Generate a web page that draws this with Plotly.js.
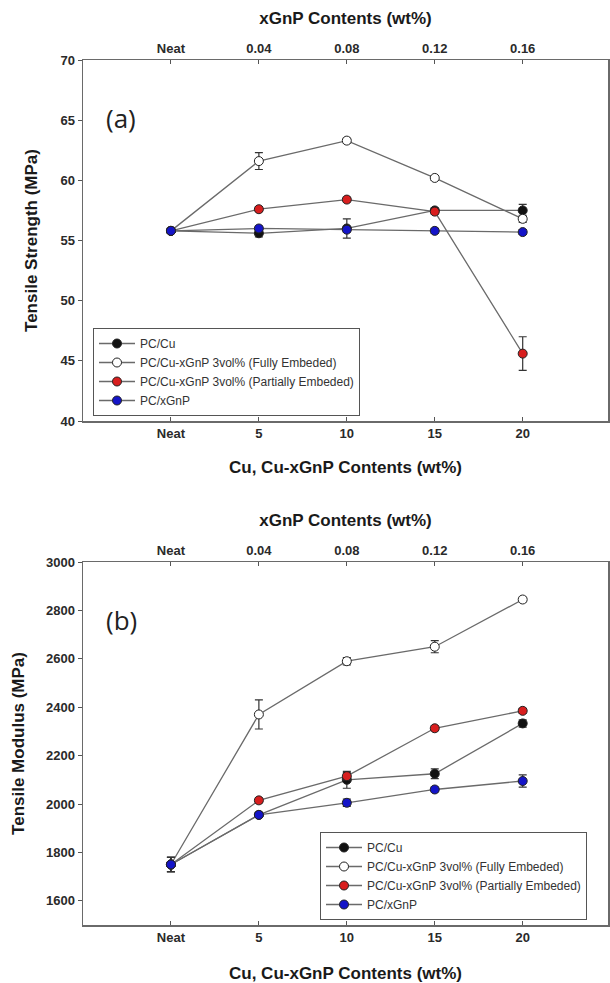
<!DOCTYPE html>
<html>
<head>
<meta charset="utf-8">
<script src="https://cdn.plot.ly/plotly-3.0.1.min.js"></script>
<style>
  html, body { margin: 0; padding: 0; background: #ffffff; }
  #chart { width: 610px; height: 983px; }
</style>
</head>
<body>
<div id="chart"></div>
<script>
// ---------- data ----------
const cuContent   = [0, 5, 10, 15, 20];                 // Cu, Cu-xGnP contents (wt%)
const cuLabels    = ["Neat", "5", "10", "15", "20"];
const xgnpContent = [0, 0.04, 0.08, 0.12, 0.16];        // xGnP contents (wt%)
const xgnpLabels  = ["Neat", "0.04", "0.08", "0.12", "0.16"];

const seriesNames = [
  "PC/Cu",
  "PC/Cu-xGnP 3vol% (Fully Embeded)",
  "PC/Cu-xGnP 3vol% (Partially Embeded)",
  "PC/xGnP"
];

// (a) Tensile strength (MPa)
const tsPCCu      = [55.8, 55.6, 56.0, 57.5, 57.5];
const tsPCCuErr   = [0.2, 0.3, 0.8, 0.2, 0.5];
const tsFully     = [55.8, 61.6, 63.3, 60.2, 56.8];
const tsFullyErr  = [0.2, 0.7, 0.2, 0.2, 0.3];
const tsPartial   = [55.8, 57.6, 58.4, 57.4, 45.6];
const tsPartialErr= [0.2, 0.2, 0.2, 0.2, 1.4];
const tsXgnp      = [55.8, 56.0, 55.9, 55.8, 55.7];
const tsXgnpErr   = [0.2, 0.2, 0.2, 0.2, 0.2];

// (b) Tensile modulus (MPa)
const tmPCCu      = [1750, 1955, 2100, 2125, 2333];
const tmPCCuErr   = [30, 10, 35, 20, 15];
const tmFully     = [1750, 2370, 2590, 2650, 2845];
const tmFullyErr  = [30, 60, 15, 25, 10];
const tmPartial   = [1750, 2015, 2115, 2313, 2385];
const tmPartialErr= [30, 10, 15, 10, 10];
const tmXgnp      = [1750, 1955, 2005, 2060, 2095];
const tmXgnpErr   = [30, 10, 15, 10, 25];

// ---------- styles ----------
const FONT = "Liberation Sans, Arial, sans-serif";
const lineCol = "#6a6a6a";
const markerFill = ["#111111", "#ffffff", "#d81e1e", "#1414c8"];

function mk(i, x, y, err, xa, ya, legend) {
  return {
    type: "scatter", mode: "lines+markers",
    name: seriesNames[i], x: x, y: y,
    xaxis: xa, yaxis: ya, legend: legend, showlegend: true,
    line: { color: lineCol, width: 1.3 },
    marker: { symbol: "circle", size: 9, color: markerFill[i], line: { color: "#222222", width: 1 } },
    error_y: { type: "data", array: err, visible: true, color: "#333333", thickness: 1.2, width: 4 },
    hoverinfo: "x+y"
  };
}

const data = [
  mk(0, cuContent, tsPCCu, tsPCCuErr, "x", "y", "legend"),
  mk(1, cuContent, tsFully, tsFullyErr, "x", "y", "legend"),
  mk(2, cuContent, tsPartial, tsPartialErr, "x", "y", "legend"),
  mk(3, xgnpContent, tsXgnp, tsXgnpErr, "x2", "y", "legend"),
  mk(0, cuContent, tmPCCu, tmPCCuErr, "x3", "y2", "legend2"),
  mk(1, cuContent, tmFully, tmFullyErr, "x3", "y2", "legend2"),
  mk(2, cuContent, tmPartial, tmPartialErr, "x3", "y2", "legend2"),
  mk(3, xgnpContent, tmXgnp, tmXgnpErr, "x4", "y2", "legend2")
];

const xRange = [-5, 24.85];
const xgRange = [xRange[0] * 0.008, xRange[1] * 0.008];
const xDom = [83 / 610, 608 / 610];
const domA = [1 - 421 / 983, 1 - 60 / 983];
const domB = [1 - 925 / 983, 1 - 562 / 983];

const tickFont = { family: FONT, size: 13, color: "#2a2a2a", weight: "bold" };
const titleFont = { family: FONT, size: 17, color: "#1a1a1a", weight: "bold" };

function xBottom(anchor, standoff) {
  return {
    domain: xDom, anchor: anchor, range: xRange,
    tickmode: "array", tickvals: cuContent, ticktext: cuLabels,
    ticks: "inside", ticklen: 4, tickwidth: 1, tickcolor: "#555",
    showline: true, linecolor: lineCol, linewidth: 1.5,
    showgrid: false, zeroline: false, tickfont: tickFont,
    title: { text: "Cu, Cu-xGnP Contents (wt%)", font: titleFont, standoff: standoff },
    automargin: false
  };
}
function xTop(over, anchor, standoff) {
  return {
    overlaying: over, side: "top", anchor: anchor, range: xgRange,
    tickmode: "array", tickvals: xgnpContent, ticktext: xgnpLabels,
    ticks: "inside", ticklen: 4, tickwidth: 1, tickcolor: "#555",
    showline: true, linecolor: lineCol, linewidth: 1.5,
    showgrid: false, zeroline: false, tickfont: tickFont,
    title: { text: "xGnP Contents (wt%)", font: titleFont, standoff: standoff },
    automargin: false
  };
}
function yAx(dom, anchor, range, tick0, dtick, title, standoff) {
  return {
    domain: dom, anchor: anchor, range: range, tick0: tick0, dtick: dtick,
    ticks: "outside", ticklen: 4, tickwidth: 1, tickcolor: "#555",
    showline: true, mirror: true, linecolor: lineCol, linewidth: 1.5,
    showgrid: false, zeroline: false, tickfont: tickFont,
    title: { text: title, font: titleFont, standoff: standoff },
    automargin: false
  };
}

const legendStyle = {
  bgcolor: "#ffffff", bordercolor: "#555555", borderwidth: 1,
  font: { family: FONT, size: 12, color: "#333333" },
  xanchor: "left", yanchor: "top", tracegroupgap: 0, itemwidth: 36
};

const layout = {
  width: 610, height: 983,
  margin: { l: 0, r: 0, t: 0, b: 0 },
  paper_bgcolor: "#ffffff", plot_bgcolor: "#ffffff",
  showlegend: true,
  xaxis: xBottom("y", 21),
  xaxis2: xTop("x", "y", 12),
  xaxis3: xBottom("y2", 24),
  xaxis4: xTop("x3", "y2", 12),
  yaxis: yAx(domA, "x", [40, 70], 40, 5, "Tensile Strength (MPa)", 18),
  yaxis2: yAx(domB, "x3", [1500, 3000], 1600, 200, "Tensile Modulus (MPa)", 17),
  legend: Object.assign({ x: 93 / 610, y: 1 - 328 / 983 }, legendStyle),
  legend2: Object.assign({ x: 320 / 610, y: 1 - 832 / 983 }, legendStyle),
  annotations: [
    { text: "(a)", xref: "paper", yref: "paper", x: 104 / 610, y: 1 - 118 / 983,
      xanchor: "left", yanchor: "middle", showarrow: false,
      font: { family: "Open Sans, Liberation Sans, sans-serif", size: 26, color: "#222" } },
    { text: "(b)", xref: "paper", yref: "paper", x: 104 / 610, y: 1 - 620 / 983,
      xanchor: "left", yanchor: "middle", showarrow: false,
      font: { family: "Open Sans, Liberation Sans, sans-serif", size: 26, color: "#222" } }
  ]
};

Plotly.newPlot("chart", data, layout, { displayModeBar: false, staticPlot: true });
</script>
</body>
</html>
